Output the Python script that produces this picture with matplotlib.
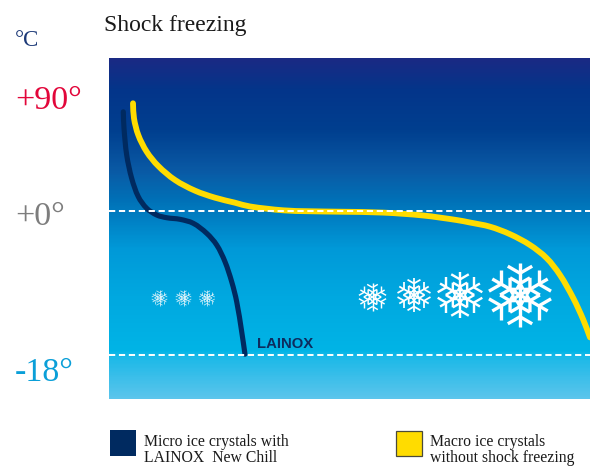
import numpy as np
import matplotlib
matplotlib.use('Agg')
import matplotlib.pyplot as plt
from matplotlib.colors import LinearSegmentedColormap
from matplotlib.patches import PathPatch, Rectangle
from matplotlib.path import Path

plt.rcParams['font.family'] = ['Liberation Serif', 'DejaVu Serif']

W, H = 590, 466

# curves: time (arbitrary units) and temperature in degrees
micro_time = [14.3, 15, 17.7, 22.7, 29.3, 37.7, 47.7, 57.7, 71, 84.3, 97.7, 107.7, 116, 122.7, 127.7, 132.7, 136]
micro_temp = [79, 65.9, 44.6, 26, 11.4, 2.15, -0.5, -0.84, -1.04, -1.54, -2.79, -4.25, -6.34, -8.84, -11.34, -15.09, -17.9]
macro_time = [24, 25, 29.3, 37.7, 49.3, 66, 86, 106, 126, 141, 174, 200, 231, 274, 314, 347.7, 361, 381, 401,
              421, 437.7, 451, 464.3, 474.3, 481]
macro_temp = [85.8, 73.8, 60.5, 47.2, 35.8, 24.7, 16.2, 10.6, 6.6, 3.6, 0.56, -0.03, -0.09, -0.2, -0.56, -1.13,
              -1.44, -1.96, -2.9, -4.25, -5.9, -8, -10.9, -13.6, -15.8]
dash_levels = [0, -18]

# background gradient: position down the panel (0 top, 1 bottom) and colour
grad_pos = [0, 0.09, 0.21, 0.33, 0.42, 0.49, 0.56, 0.7, 0.86, 0.88, 1]
grad_colors = ['#1a2a84', '#04358a', '#003f8f', '#0a5aa5', '#0072b8', '#0085c8',
               '#0099d8', '#00a8e0', '#00b4e6', '#1cb9e8', '#5bc5ec']

# snowflakes: centre x, centre y, radius (pixels)
big_flakes = [(520, 295, 32), (460, 295, 23), (414, 295, 17), (372.5, 297, 14)]
small_flakes = [(159.5, 298, 8), (183.5, 298, 8), (207, 298, 8)]

legend_lines = [['Micro ice crystals with', 'LAINOX  New Chill'], ['Macro ice crystals', 'without shock freezing']]
legend_colors = ['#002a60', '#ffdc00']


def to_height(v):
    # the temperature axis is not linear: 90 degrees above zero take 113 px, below zero 8 px a degree
    v = np.asarray(v, dtype=float)
    return np.where(v >= 0, v * (113 / 90), v * 8)


def smooth_path(x, y):
    # bezier through the read points
    pts = np.column_stack([x, y])
    d = np.hypot(*np.diff(pts, axis=0).T)
    tang = np.zeros_like(pts)
    tang[0] = (pts[1] - pts[0]) / d[0]
    tang[-1] = (pts[-1] - pts[-2]) / d[-1]
    for i in range(1, len(pts) - 1):
        tang[i] = (pts[i + 1] - pts[i - 1]) / (d[i - 1] + d[i])
    verts = [pts[0]]
    codes = [Path.MOVETO]
    for i in range(len(pts) - 1):
        verts += [pts[i] + tang[i] * d[i] / 3, pts[i + 1] - tang[i + 1] * d[i] / 3, pts[i + 1]]
        codes += [Path.CURVE4] * 3
    return Path(verts, codes)


def polar(a, r):
    return np.array([np.cos(a), np.sin(a)]) * r


def draw_flake(ax, cx, cy, r, alpha=1.0):
    lw = max(0.45, r * 0.075)
    segs = []
    for k in range(6):
        a = np.pi / 2 + k * np.pi / 3
        segs.append((polar(a, 0), polar(a, r)))
        # V near the tip of the arm
        for s in (-1, 1):
            base = polar(a, r * 0.68)
            segs.append((base, base + polar(a + s * np.pi / 3, r * 0.44)))
            # diamonds between the arms
            mid = polar(a, r * 0.36)
            segs.append((mid, polar(a + s * np.pi / 6, r * 0.62)))
            segs.append((mid, polar(a + s * np.pi / 6, r * 0.2)))
    for p0, p1 in segs:
        ax.plot([cx + p0[0], cx + p1[0]], [cy + p0[1], cy + p1[1]], color='white',
                lw=lw, alpha=alpha, solid_capstyle='butt')


def px_text(x, y, s, **kw):
    fig.text(x / W, 1 - y / H, s, **kw)


fig = plt.figure(figsize=(W / 100, H / 100), dpi=100, facecolor='white')

left, right, top, bottom = 109, 590, 58, 399
rect = [left / W, 1 - bottom / H, (right - left) / W, (bottom - top) / H]

# gradient panel
bg = fig.add_axes(rect, zorder=0)
cmap = LinearSegmentedColormap.from_list('panel', list(zip(grad_pos, grad_colors)))
bg.imshow(np.linspace(0, 1, 341).reshape(-1, 1), aspect='auto', cmap=cmap, vmin=0, vmax=1)
bg.axis('off')

# curves
ax = fig.add_axes(rect, zorder=1)
ax.patch.set_alpha(0)
ax.set_xlim(0, right - left)
ax.set_ylim(-188, 153)
ax.axis('off')
for lev in dash_levels:
    ax.plot([0, right - left], to_height([lev, lev]), color='white', lw=1.4, dashes=(3.2, 1.9))
ax.add_patch(PathPatch(smooth_path(micro_time, to_height(micro_temp)), facecolor='none',
                       edgecolor=legend_colors[0], lw=3.7, capstyle='round', joinstyle='round'))
ax.add_patch(PathPatch(smooth_path(macro_time, to_height(macro_temp)), facecolor='none',
                       edgecolor=legend_colors[1], lw=4.2, capstyle='round', joinstyle='round'))

# flakes and legend boxes, in pixel coordinates
over = fig.add_axes([0, 0, 1, 1], zorder=2)
over.patch.set_alpha(0)
over.set_xlim(0, W)
over.set_ylim(H, 0)
over.axis('off')
for cx, cy, r in big_flakes:
    draw_flake(over, cx, cy, r)
for cx, cy, r in small_flakes:
    draw_flake(over, cx, cy, r, alpha=0.75)

over.add_patch(Rectangle((110, 430), 26, 26, facecolor=legend_colors[0], edgecolor='none'))
over.add_patch(Rectangle((395.5, 430.5), 26, 25.5, facecolor=legend_colors[1], edgecolor='#4a4a3a', lw=0.9))

px_text(104, 26, 'Shock freezing', fontsize=17, color='#1a1a1a', va='center')
px_text(15, 41, '°C', fontsize=16.5, color='#1d3a78', va='center')
px_text(15, 101, '+90°', fontsize=24.5, color='#e2063a', va='center')
px_text(15, 217, '+0°', fontsize=24.5, color='#7d7d7d', va='center')
px_text(15, 373, '-18°', fontsize=24.5, color='#0a9fd8', va='center')
px_text(257, 343.5, 'LAINOX', fontsize=10.7, color='#0d2c5e', family='Liberation Sans', weight='bold', va='center')
for x, lines in zip([144, 430], legend_lines):
    px_text(x, 446, lines[0], fontsize=11.3, color='#1a1a1a', va='baseline')
    px_text(x, 462.5, lines[1], fontsize=11.3, color='#1a1a1a', va='baseline')

fig.savefig('out.png', dpi=100, facecolor='white')
